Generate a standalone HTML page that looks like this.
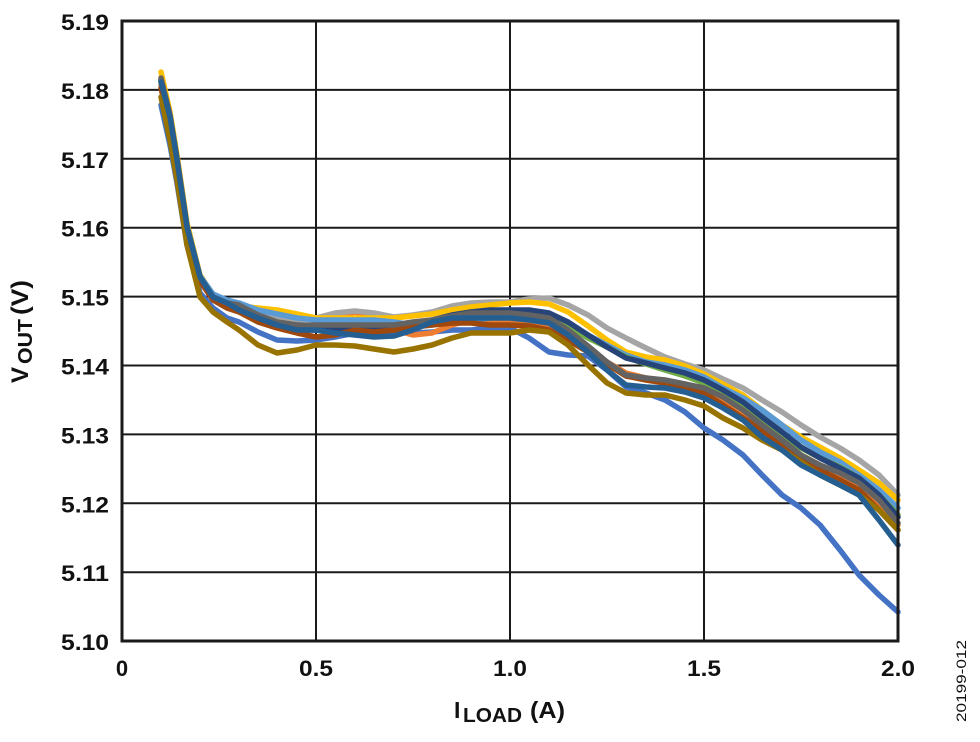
<!DOCTYPE html>
<html><head><meta charset="utf-8"><style>
html,body{margin:0;padding:0;background:#fff;}
svg{display:block;}
text{font-family:"Liberation Sans",Arial,sans-serif;font-weight:bold;fill:#111;}
</style></head><body>
<svg width="980" height="742" viewBox="0 0 980 742" xmlns="http://www.w3.org/2000/svg">
<rect x="0" y="0" width="980" height="742" fill="#fff"/>
<g stroke="#1a1a1a" stroke-width="2" fill="none">
<line x1="316" y1="21" x2="316" y2="641"/>
<line x1="510" y1="21" x2="510" y2="641"/>
<line x1="704" y1="21" x2="704" y2="641"/>
<line x1="122" y1="89.9" x2="898" y2="89.9"/>
<line x1="122" y1="158.8" x2="898" y2="158.8"/>
<line x1="122" y1="227.7" x2="898" y2="227.7"/>
<line x1="122" y1="296.6" x2="898" y2="296.6"/>
<line x1="122" y1="365.5" x2="898" y2="365.5"/>
<line x1="122" y1="434.4" x2="898" y2="434.4"/>
<line x1="122" y1="503.3" x2="898" y2="503.3"/>
<line x1="122" y1="572.2" x2="898" y2="572.2"/>
</g>
<g fill="none" stroke-width="5.5" stroke-linejoin="round" stroke-linecap="round">
<polyline stroke="#4472C4" points="161,105 170,145 177,183 187,245 200,293 213,308 227,318 239,322 258,332 277,340 297,341 316,340 335,337 355,333 374,330 394,332 413,333 432,332 452,330 471,330 490,328 510,328 529,338 549,352 568,355 588,356 607,370 626,387 646,393 665,400 685,412 704,428 723,440 743,455 762,475 782,495 801,508 820,525 840,550 859,575 879,595 898,612"/>
<polyline stroke="#ED7D31" points="161,85 170,122 177,164 187,230 200,279 213,298 227,305 239,310 258,318 277,323 297,328 316,328 335,320 355,312 374,318 394,330 413,335 432,333 452,325 471,320 490,322 510,323 529,324 549,328 568,338 588,350 607,362 626,373 646,378 665,381 685,385 704,392 723,402 743,415 762,428 782,443 801,455 820,465 840,475 859,488 879,505 898,525"/>
<polyline stroke="#A5A5A5" points="161,82 170,118 177,160 187,227 200,277 213,297 227,304 239,307 258,312 277,317 297,320 316,318 335,313 355,311 374,313 394,317 413,315 432,312 452,306 471,303 490,302 510,302 529,299 549,298 568,305 588,315 607,328 626,338 646,348 665,357 685,364 704,370 723,379 743,388 762,400 782,412 801,425 820,437 840,448 859,460 879,475 898,495"/>
<polyline stroke="#FFC000" points="161,72 170,112 177,155 187,223 200,275 213,295 227,302 239,306 258,308 277,310 297,314 316,318 335,318 355,318 374,318 394,318 413,316 432,314 452,310 471,307 490,305 510,303 529,302 549,304 568,312 588,326 607,340 626,352 646,357 665,360 685,366 704,374 723,384 743,395 762,410 782,425 801,437 820,447 840,458 859,470 879,483 898,500"/>
<polyline stroke="#5B9BD5" points="161,80 170,118 177,160 187,226 200,276 213,294 227,300 239,303 258,310 277,314 297,318 316,320 335,320 355,320 374,320 394,322 413,325 432,325 452,322 471,320 490,318 510,317 529,315 549,315 568,322 588,335 607,345 626,355 646,362 665,365 685,370 704,377 723,388 743,398 762,410 782,425 801,440 820,452 840,462 859,475 879,490 898,508"/>
<polyline stroke="#70AD47" points="161,82 170,118 177,160 187,227 200,277 213,297 227,304 239,308 258,318 277,324 297,328 316,328 335,328 355,328 374,328 394,326 413,324 432,320 452,317 471,315 490,314 510,314 529,315 549,318 568,326 588,338 607,347 626,357 646,364 665,370 685,376 704,383 723,393 743,405 762,420 782,435 801,448 820,458 840,467 859,478 879,495 898,515"/>
<polyline stroke="#264478" points="161,80 170,117 177,160 187,227 200,277 213,297 227,303 239,308 258,318 277,325 297,330 316,330 335,330 355,330 374,330 394,330 413,327 432,320 452,315 471,312 490,310 510,310 529,310 549,313 568,322 588,335 607,347 626,358 646,363 665,368 685,373 704,380 723,390 743,402 762,417 782,432 801,447 820,458 840,468 859,478 879,495 898,517"/>
<polyline stroke="#9E480E" points="161,88 170,125 177,166 187,232 200,281 213,300 227,308 239,312 258,322 277,328 297,333 316,337 335,335 355,330 374,332 394,330 413,327 432,325 452,323 471,323 490,325 510,325 529,326 549,330 568,340 588,352 607,364 626,376 646,380 665,383 685,387 704,393 723,405 743,418 762,430 782,445 801,460 820,470 840,480 859,490 879,510 898,530"/>
<polyline stroke="#636363" points="161,78 170,115 177,158 187,226 200,277 213,297 227,303 239,305 258,315 277,322 297,325 316,325 335,325 355,325 374,325 394,325 413,322 432,320 452,316 471,313 490,313 510,313 529,315 549,318 568,330 588,346 607,362 626,375 646,378 665,380 685,384 704,388 723,397 743,410 762,425 782,440 801,455 820,465 840,473 859,483 879,500 898,523"/>
<polyline stroke="#997300" points="161,97 170,140 177,180 187,245 200,297 213,312 227,322 239,330 258,345 277,353 297,350 316,345 335,345 355,346 374,349 394,352 413,349 432,345 452,338 471,333 490,333 510,333 529,330 549,332 568,345 588,365 607,383 626,393 646,395 665,395 685,400 704,406 723,418 743,428 762,440 782,450 801,462 820,475 840,485 859,495 879,510 898,530"/>
<polyline stroke="#255E91" points="161,82 170,117 177,160 187,227 200,277 213,297 227,303 239,310 258,318 277,325 297,330 316,330 335,333 355,335 374,337 394,336 413,330 432,322 452,318 471,318 490,318 510,318 529,320 549,323 568,335 588,352 607,370 626,385 646,387 665,388 685,392 704,398 723,408 743,420 762,437 782,450 801,465 820,475 840,485 859,495 879,520 898,545"/>
</g>
<rect x="122" y="21" width="776" height="620" fill="none" stroke="#1a1a1a" stroke-width="3"/>
<g font-size="22" text-anchor="end">
<text x="109" y="30" textLength="48" lengthAdjust="spacingAndGlyphs">5.19</text>
<text x="109" y="98.9" textLength="48" lengthAdjust="spacingAndGlyphs">5.18</text>
<text x="109" y="167.8" textLength="48" lengthAdjust="spacingAndGlyphs">5.17</text>
<text x="109" y="236.7" textLength="48" lengthAdjust="spacingAndGlyphs">5.16</text>
<text x="109" y="305.6" textLength="48" lengthAdjust="spacingAndGlyphs">5.15</text>
<text x="109" y="374.5" textLength="48" lengthAdjust="spacingAndGlyphs">5.14</text>
<text x="109" y="443.4" textLength="48" lengthAdjust="spacingAndGlyphs">5.13</text>
<text x="109" y="512.3" textLength="48" lengthAdjust="spacingAndGlyphs">5.12</text>
<text x="109" y="581.2" textLength="48" lengthAdjust="spacingAndGlyphs">5.11</text>
<text x="109" y="650" textLength="48" lengthAdjust="spacingAndGlyphs">5.10</text>
</g>
<g font-size="22" text-anchor="middle">
<text x="122" y="676">0</text>
<text x="316" y="676" textLength="34" lengthAdjust="spacingAndGlyphs">0.5</text>
<text x="510" y="676" textLength="34" lengthAdjust="spacingAndGlyphs">1.0</text>
<text x="704" y="676" textLength="34" lengthAdjust="spacingAndGlyphs">1.5</text>
<text x="898" y="676" textLength="34" lengthAdjust="spacingAndGlyphs">2.0</text>
</g>
<text font-size="23"><tspan x="454" y="718">I</tspan><tspan x="463" y="722" font-size="20" textLength="59" lengthAdjust="spacingAndGlyphs">LOAD</tspan><tspan x="530" y="718" textLength="35" lengthAdjust="spacingAndGlyphs">(A)</tspan></text>
<g transform="translate(28,383) rotate(-90)">
<text font-size="24"><tspan x="0" y="0">V</tspan><tspan x="19" y="4" font-size="20" textLength="45" lengthAdjust="spacingAndGlyphs">OUT</tspan><tspan x="68" y="0" textLength="35" lengthAdjust="spacingAndGlyphs">(V)</tspan></text>
</g>
<g transform="translate(966,722) rotate(-90)">
<text x="0" y="0" font-size="14" style="font-weight:normal" fill="#333" textLength="82" lengthAdjust="spacingAndGlyphs">20199-012</text>
</g>
</svg>
</body></html>
